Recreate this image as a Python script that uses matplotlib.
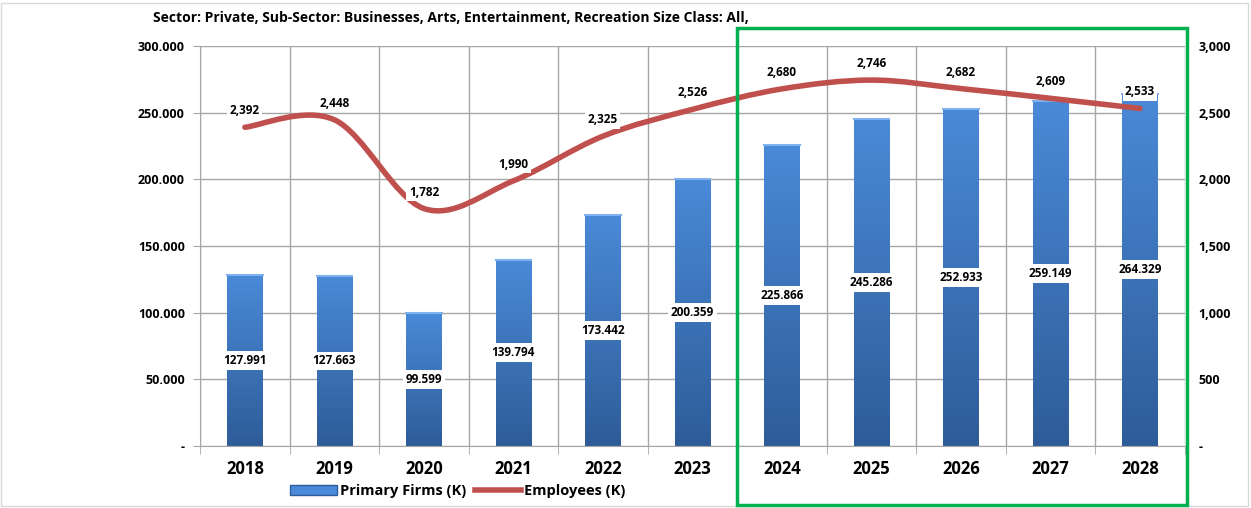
import numpy as np
import matplotlib.pyplot as plt
from matplotlib.path import Path
from matplotlib.patches import PathPatch, Rectangle
from matplotlib.transforms import blended_transform_factory
from matplotlib.ticker import FuncFormatter
from matplotlib.lines import Line2D

plt.rcParams['font.family'] = ['Open Sans', 'DejaVu Sans']
plt.rcParams['font.weight'] = 'bold'

years = ['2018', '2019', '2020', '2021', '2022', '2023', '2024', '2025', '2026', '2027', '2028']
firms = [127.991, 127.663, 99.599, 139.794, 173.442, 200.359, 225.866, 245.286, 252.933, 259.149, 264.329]
employees = [2392, 2448, 1782, 1990, 2325, 2526, 2680, 2746, 2682, 2609, 2533]
title = 'Sector: Private, Sub-Sector: Businesses, Arts, Entertainment, Recreation Size Class: All,'

bar_top = '#4A8AD8'
bar_bot = '#2E5C98'
line_col = '#C0504D'
grid_col = '#A6A6A6'

fig = plt.figure(figsize=(12.51, 5.08), dpi=100)
fig.patches.append(Rectangle((0.001, 0.004), 0.997, 0.99, transform=fig.transFigure,
                             fill=False, edgecolor='#D9D9D9', lw=1))
ax = fig.add_axes([0.160, 0.122, 0.787, 0.787])
x = np.arange(len(years))

bars = ax.bar(x, firms, width=0.4, color=bar_bot, zorder=2)
grad = np.linspace(1, 0, 256).reshape(-1, 1)
cmap = plt.matplotlib.colors.LinearSegmentedColormap.from_list('b', [bar_bot, bar_top])
for b in bars:
    bx, by, bw, bh = b.get_x(), b.get_y(), b.get_width(), b.get_height()
    im = ax.imshow(grad, cmap=cmap, aspect='auto', extent=[bx, bx + bw, by, by + bh],
                   zorder=2.1, vmin=0, vmax=1)
    im.set_clip_path(b)
    ax.plot([bx, bx + bw], [by + bh, by + bh], color='#7FB2EE', lw=1.5, zorder=2.2)

for xi, v in zip(x, firms):
    ax.text(xi, v / 2, f'{v:.3f}', ha='center', va='center', fontsize=8.5, fontweight='bold',
            zorder=5, bbox=dict(boxstyle='square,pad=0.25', fc='white', ec='none'))

ax.set_xlim(-0.5, len(years) - 0.5)
ax.set_ylim(0, 300)
ax.set_yticks(np.arange(0, 301, 50))
ax.yaxis.set_major_formatter(FuncFormatter(lambda v, p: '-' if v == 0 else f'{v:.3f}'))
ax.set_xticks(x)
ax.set_xticklabels(years, fontsize=12, fontweight='bold')
ax.set_xticks(np.arange(-0.5, len(years), 1), minor=True)
ax.tick_params(axis='x', which='major', length=0, pad=10)
ax.tick_params(axis='x', which='minor', length=6, color=grid_col)
ax.tick_params(axis='y', labelsize=9, length=5, color=grid_col, pad=6)
ax.grid(True, axis='y', color=grid_col, lw=1, zorder=0)
ax.grid(True, axis='x', which='minor', color=grid_col, lw=1, zorder=0)
ax.set_axisbelow(True)
for s in ['top', 'right']:
    ax.spines[s].set_visible(False)
for s in ['left', 'bottom']:
    ax.spines[s].set_color(grid_col)

ax2 = ax.twinx()
ax2.set_ylim(0, 3000)
ax2.set_yticks(np.arange(0, 3001, 500))
ax2.yaxis.set_major_formatter(FuncFormatter(lambda v, p: '-' if v == 0 else f'{v:,.0f}'))
ax2.tick_params(axis='y', labelsize=9, length=0, pad=10)
for s in ax2.spines.values():
    s.set_visible(False)

# smoothed line (Catmull-Rom as cubic Bezier through the data points)
pts = np.column_stack([x, employees]).astype(float)
verts = [pts[0]]
codes = [Path.MOVETO]
n = len(pts)
for i in range(n - 1):
    p0 = pts[max(i - 1, 0)]
    p1 = pts[i]
    p2 = pts[i + 1]
    p3 = pts[min(i + 2, n - 1)]
    verts += [p1 + (p2 - p0) / 6, p2 - (p3 - p1) / 6, p2]
    codes += [Path.CURVE4] * 3
ax2.add_patch(PathPatch(Path(verts, codes), fill=False, edgecolor=line_col, lw=4,
                        capstyle='round', zorder=3))
for xi, v in zip(x, employees):
    ax2.text(xi, v + 75, f'{v:,}', ha='center', va='bottom', fontsize=8.5, fontweight='bold',
             zorder=5, bbox=dict(boxstyle='square,pad=0.2', fc='white', ec='none'))

fig.text(0.122, 0.965, title, fontsize=10, fontweight='bold', ha='left', va='center')

handles = [Rectangle((0, 0), 1, 1, fc=bar_top, ec=bar_bot),
           Line2D([0], [0], color=line_col, lw=4)]
fig.legend(handles, ['Primary Firms (K)', 'Employees (K)'], loc='center',
           bbox_to_anchor=(0.366, 0.033), ncol=2, frameon=False, fontsize=10.5,
           handlelength=3.2, handletextpad=0.2, columnspacing=0.6)

tr = blended_transform_factory(ax.transData, fig.transFigure)
fig.patches.append(Rectangle((5.5, 0.006), 5.03, 0.939, transform=tr, fill=False,
                             edgecolor='#00B050', lw=2.5, zorder=10))

fig.savefig('out.png', dpi=100)
